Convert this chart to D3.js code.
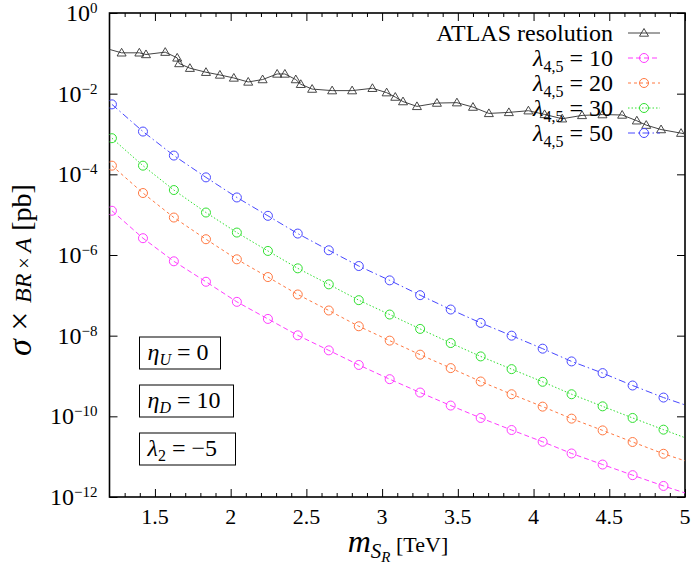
<!DOCTYPE html>
<html>
<head>
<meta charset="utf-8">
<script src="https://cdn.jsdelivr.net/npm/d3@7"></script>
<style>
  body { margin: 0; background: #fff; }
  svg text { font-family: "Liberation Serif", "Times New Roman", Times, "DejaVu Serif", serif !important; }
</style>
</head>
<body>
<div id="chart"></div>
<script>
// scalar mass points for the lambda curves (last one is where the line leaves the frame)
const massPts = [1.216, 1.421, 1.625, 1.837, 2.041, 2.246, 2.443, 2.648, 2.846, 3.050,
                 3.251, 3.453, 3.651, 3.855, 4.060, 4.251, 4.456, 4.654, 4.858, 5.0];

const lam10 = [1.25e-5, 2.61e-6, 6.98e-7, 2.17e-7, 6.89e-8, 2.60e-8, 1.02e-8, 4.32e-9, 1.88e-9, 8.34e-10,
               3.89e-10, 1.85e-10, 9.12e-11, 4.58e-11, 2.34e-11, 1.20e-11, 6.38e-12, 3.48e-12, 1.88e-12, 1.26e-12];
const lam20 = [1.64e-4, 3.44e-5, 8.49e-6, 2.46e-6, 7.82e-7, 2.84e-7, 1.05e-7, 4.21e-8, 1.71e-8, 7.53e-9,
               3.38e-9, 1.57e-9, 7.31e-10, 3.53e-10, 1.74e-10, 8.77e-11, 4.48e-11, 2.31e-11, 1.18e-11, 7.89e-12];
const lam30 = [7.87e-4, 1.64e-4, 4.08e-5, 1.13e-5, 3.60e-6, 1.26e-6, 4.67e-7, 1.87e-7, 7.59e-8, 3.34e-8,
               1.47e-8, 6.56e-9, 3.06e-9, 1.48e-9, 7.18e-10, 3.53e-10, 1.77e-10, 9.12e-11, 4.67e-11, 2.95e-11];
const lam50 = [5.43e-3, 1.15e-3, 2.92e-4, 8.41e-5, 2.67e-5, 9.36e-6, 3.40e-6, 1.31e-6, 5.33e-7, 2.35e-7,
               1.01e-7, 4.45e-8, 2.07e-8, 1.00e-8, 4.76e-9, 2.30e-9, 1.18e-9, 5.81e-10, 2.92e-10, 1.92e-10];

// ATLAS resolution curve (first and last entries are the frame edges)
const atlasMass = [1.2, 1.280, 1.397, 1.441, 1.568, 1.647, 1.660, 1.731, 1.837, 1.929,
                   2.021, 2.116, 2.211, 2.307, 2.358, 2.430, 2.463, 2.538, 2.670, 2.802,
                   2.936, 3.030, 3.087, 3.138, 3.230, 3.362, 3.494, 3.600, 3.705, 3.837,
                   3.966, 4.073, 4.189, 4.320, 4.455, 4.585, 4.682, 4.744, 4.842, 4.974, 5.0];
const atlasXsec = [0.125, 0.103, 0.103, 0.0937, 0.107, 0.0771, 0.0560, 0.0428, 0.0340, 0.0291,
                   0.0245, 0.0195, 0.0224, 0.0308, 0.0308, 0.0224, 0.0171, 0.0130, 0.0119, 0.0119,
                   0.0136, 0.0106, 0.00824, 0.00637, 0.00484, 0.00585, 0.00598, 0.00465, 0.00324, 0.00343,
                   0.00378, 0.00306, 0.00239, 0.00289, 0.00303, 0.00296, 0.00213, 0.00166, 0.00129, 0.00105, 0.00100];

const xTickVals = [1.5, 2, 2.5, 3, 3.5, 4, 4.5, 5];
const xTickText = ["1.5", "2", "2.5", "3", "3.5", "4", "4.5", "5"];
const yTickExps = [0, -2, -4, -6, -8, -10, -12];

const lamLabels = ["10", "20", "30", "50"];
const lamColors = ["#ff3cff", "#ff7840", "#30e030", "#4848ff"];
const lamDash = ["5,3", "3,3", "1.5,2", "7,3,1.5,3"];
const lamSeries = [lam10, lam20, lam30, lam50];

const annotations = [
  { sym: "η", sub: "U", rest: " = 0" },
  { sym: "η", sub: "D", rest: " = 10" },
  { sym: "λ", sub: "2", rest: " = −5" }
];

// frame
const W = 694, H = 565;
const plot = { left: 109.5, right: 685, top: 13, bottom: 497 };

const svg = d3.select("#chart").append("svg")
    .attr("width", W).attr("height", H);

const x = d3.scaleLinear().domain([1.2, 5]).range([plot.left, plot.right]);
const y = d3.scaleLog().domain([1e-12, 1]).range([plot.bottom, plot.top]);

svg.append("clipPath").attr("id", "clip")
  .append("rect")
    .attr("x", plot.left).attr("y", plot.top)
    .attr("width", plot.right - plot.left).attr("height", plot.bottom - plot.top);

// minor x ticks every 0.1
const xMinor = d3.range(13, 50).map(d => d / 10).filter(d => !xTickVals.some(v => Math.abs(v - d) < 1e-6));

function styleAxis(g) {
    g.select(".domain").remove();
    g.selectAll("line").attr("stroke", "#000").attr("stroke-width", 1);
    g.selectAll("text").remove();
}

// bottom + top ticks (inward)
[[d3.axisBottom, plot.bottom], [d3.axisTop, plot.top]].forEach(([axisFn, yy]) => {
    svg.append("g")
        .attr("transform", `translate(0,${yy})`)
        .call(axisFn(x).tickValues(xMinor).tickSize(-4).tickFormat(""))
        .call(styleAxis);
    svg.append("g")
        .attr("transform", `translate(0,${yy})`)
        .call(axisFn(x).tickValues(xTickVals).tickSize(-8).tickFormat(""))
        .call(styleAxis);
});

// x tick labels
svg.append("g").selectAll("text")
    .data(xTickVals)
    .enter().append("text")
      .attr("x", d => x(d))
      .attr("y", plot.bottom + 27)
      .attr("text-anchor", "middle")
      .attr("font-size", 22)
      .attr("fill", "#000")
      .text((d, i) => xTickText[i]);

// left / right ticks
const yTicks = yTickExps.map(e => Math.pow(10, e));
svg.append("g")
    .attr("transform", `translate(${plot.left},0)`)
    .call(d3.axisLeft(y).tickValues(yTicks).tickSize(-8).tickFormat(""))
    .call(styleAxis);
svg.append("g")
    .attr("transform", `translate(${plot.right},0)`)
    .call(d3.axisRight(y).tickValues(yTicks).tickSize(-8).tickFormat(""))
    .call(styleAxis);

// y tick labels 10^n
svg.append("g").selectAll("text")
    .data(yTickExps)
    .enter().append("text")
      .attr("x", plot.left - 12)
      .attr("y", e => y(Math.pow(10, e)) + 8)
      .attr("text-anchor", "end")
      .attr("font-size", 24)
      .attr("fill", "#000")
      .each(function(e) {
          const t = d3.select(this);
          t.append("tspan").text("10");
          t.append("tspan").attr("dy", -8).attr("font-size", 15)
            .text(e === 0 ? "0" : "−" + Math.abs(e));
      });

// frame box
svg.append("rect")
    .attr("x", plot.left).attr("y", plot.top)
    .attr("width", plot.right - plot.left).attr("height", plot.bottom - plot.top)
    .attr("fill", "none").attr("stroke", "#000").attr("stroke-width", 1.6);

const plotArea = svg.append("g").attr("clip-path", "url(#clip)");

const line = d3.line().x(d => x(d[0])).y(d => y(d[1]));
const trianglePath = "M0,-4.5L4.5,3.2L-4.5,3.2Z";

// ATLAS curve
const atlasData = atlasMass.map((m, i) => [m, atlasXsec[i]]);
plotArea.append("path")
    .datum(atlasData)
    .attr("fill", "none").attr("stroke", "#444").attr("stroke-width", 1)
    .attr("d", line);
plotArea.selectAll(".atri")
    .data(atlasData.filter(d => d[0] > 1.2 && d[0] < 5))
    .enter().append("path")
      .attr("class", "atri")
      .attr("transform", d => `translate(${x(d[0])},${y(d[1])})`)
      .attr("d", trianglePath)
      .attr("fill", "none").attr("stroke", "#333").attr("stroke-width", 0.9);

// lambda curves
lamSeries.forEach((vals, k) => {
    const data = massPts.map((m, i) => [m, vals[i]]);
    plotArea.append("path")
        .datum(data)
        .attr("fill", "none").attr("stroke", lamColors[k]).attr("stroke-width", 1)
        .attr("stroke-dasharray", lamDash[k])
        .attr("d", line);
    plotArea.selectAll(".c" + k)
        .data(data.filter(d => d[0] < 5))
        .enter().append("circle")
          .attr("class", "c" + k)
          .attr("cx", d => x(d[0])).attr("cy", d => y(d[1]))
          .attr("r", 4.5)
          .attr("fill", "none").attr("stroke", lamColors[k]).attr("stroke-width", 1);
});

// legend
const legend = svg.append("g").attr("font-size", 24).attr("fill", "#000");
const legendRowY = [33, 58, 83, 108, 133];
const legTextX = 613, legLine = [628, 660], legMark = 644;

legend.append("text").attr("x", legTextX).attr("y", legendRowY[0]).attr("dy", "0.35em")
    .attr("text-anchor", "end").text("ATLAS resolution");
legend.append("line")
    .attr("x1", legLine[0]).attr("x2", legLine[1])
    .attr("y1", legendRowY[0]).attr("y2", legendRowY[0])
    .attr("stroke", "#444").attr("stroke-width", 1);
legend.append("path")
    .attr("transform", `translate(${legMark},${legendRowY[0]})`)
    .attr("d", trianglePath).attr("fill", "none").attr("stroke", "#333").attr("stroke-width", 0.9);

lamLabels.forEach((lab, k) => {
    const ry = legendRowY[k + 1];
    const t = legend.append("text").attr("x", legTextX).attr("y", ry).attr("dy", "0.35em")
        .attr("text-anchor", "end");
    t.append("tspan").attr("font-style", "italic").text("λ");
    t.append("tspan").attr("dy", 6).attr("font-size", 16).text("4,5");
    t.append("tspan").attr("dy", -6).text(" = " + lab);
    legend.append("line")
        .attr("x1", legLine[0]).attr("x2", legLine[1])
        .attr("y1", ry).attr("y2", ry)
        .attr("stroke", lamColors[k]).attr("stroke-width", 1)
        .attr("stroke-dasharray", lamDash[k]);
    legend.append("circle")
        .attr("cx", legMark).attr("cy", ry).attr("r", 4.5)
        .attr("fill", "none").attr("stroke", lamColors[k]).attr("stroke-width", 1);
});

// parameter boxes
const boxY = [337, 385, 433];
const boxW = [81, 94, 96];
annotations.forEach((a, i) => {
    const g = svg.append("g").attr("transform", `translate(139.5,${boxY[i]})`);
    g.append("rect").attr("width", boxW[i]).attr("height", 32)
        .attr("fill", "#fff").attr("stroke", "#000").attr("stroke-width", 1);
    const t = g.append("text").attr("x", 8).attr("y", 23).attr("font-size", 24);
    t.append("tspan").attr("font-style", "italic").text(a.sym);
    t.append("tspan").attr("dy", 5).attr("font-size", 16)
        .attr("font-style", a.sub === "2" ? "normal" : "italic").text(a.sub);
    t.append("tspan").attr("dy", -5).text(a.rest);
});

// axis titles
const xt = svg.append("text")
    .attr("x", 398).attr("y", 552).attr("text-anchor", "middle").attr("font-size", 32);
xt.append("tspan").attr("font-style", "italic").text("m");
xt.append("tspan").attr("dy", 6).attr("font-size", 21).attr("font-style", "italic").text("S");
xt.append("tspan").attr("dy", 4).attr("font-size", 15).attr("font-style", "italic").text("R");
xt.append("tspan").attr("dy", -10).attr("font-size", 22).text("  [TeV]");

const yt = svg.append("text")
    .attr("transform", "translate(31,270) rotate(-90)")
    .attr("text-anchor", "middle").attr("font-size", 34);
yt.append("tspan").attr("font-style", "italic").text("σ");
yt.append("tspan").text(" × ");
yt.append("tspan").attr("font-style", "italic").attr("font-size", 24).text("BR");
yt.append("tspan").attr("font-size", 20).text(" × ");
yt.append("tspan").attr("font-style", "italic").attr("font-size", 24).text("A");
yt.append("tspan").attr("font-size", 28).text("  [pb]");
</script>
</body>
</html>
